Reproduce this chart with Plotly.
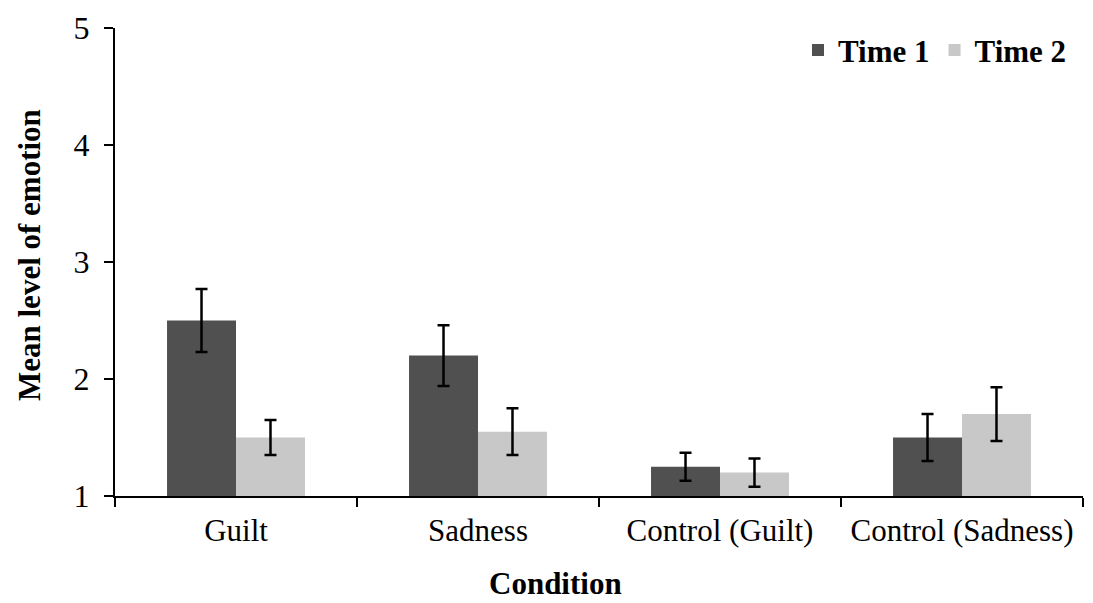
import plotly.graph_objects as go

categories = ["Guilt", "Sadness", "Control (Guilt)", "Control (Sadness)"]
time1 = [2.5, 2.2, 1.25, 1.5]
time1_err = [0.27, 0.26, 0.12, 0.2]
time2 = [1.5, 1.55, 1.2, 1.7]
time2_err = [0.15, 0.2, 0.12, 0.23]
y_ticks = [1, 2, 3, 4, 5]

FONT = "Liberation Serif"

fig = go.Figure()
fig.add_trace(go.Bar(
    name="Time 1", x=categories, y=[v - 1 for v in time1], base=1,
    marker=dict(color="#505050", line=dict(width=0)),
    error_y=dict(type="data", array=time1_err, color="black", thickness=2.5, width=6),
))
fig.add_trace(go.Bar(
    name="Time 2", x=categories, y=[v - 1 for v in time2], base=1,
    marker=dict(color="#c8c8c8", line=dict(width=0)),
    error_y=dict(type="data", array=time2_err, color="black", thickness=2.5, width=6),
))

pw = 1093 - 115 - 10
ph = 603 - 28 - 107

fig.update_layout(
    width=1093, height=603,
    margin=dict(l=115, r=10, t=28, b=107),
    plot_bgcolor="white", paper_bgcolor="white",
    barmode="group", bargap=0.43, bargroupgap=0,
    font=dict(family=FONT, size=31, color="black"),
    showlegend=True,
    legend=dict(orientation="h", x=(1072 - 115) / pw, xanchor="right",
                y=(496 - 28) / ph + 0.01, yanchor="top",
                font=dict(family=FONT, size=31, color="black", weight="bold"),
                itemwidth=30, bgcolor="rgba(0,0,0,0)"),
    xaxis=dict(type="category", showline=True, linecolor="black", linewidth=2,
               ticks="outside", tickson="boundaries", ticklen=9, tickwidth=2,
               tickcolor="black", showgrid=False, ticklabelstandoff=6,
               tickfont=dict(family=FONT, size=31, color="black")),
    yaxis=dict(range=[1, 5], tickvals=y_ticks, showline=True, linecolor="black",
               linewidth=2, ticks="outside", ticklen=9, tickwidth=2, tickcolor="black",
               showgrid=False, zeroline=False, ticklabelstandoff=8,
               tickfont=dict(family=FONT, size=32, color="black")),
    annotations=[
        dict(text="<b>Condition</b>", xref="paper", yref="paper",
             x=(555 - 115) / pw, y=(496 - 603) / ph, yanchor="bottom", xanchor="center",
             showarrow=False, font=dict(family=FONT, size=31)),
        dict(text="<b>Mean level of emotion</b>", xref="paper", yref="paper",
             x=(29 - 115) / pw, y=(496 - 255) / ph, xanchor="center", yanchor="middle",
             textangle=-90, showarrow=False, font=dict(family=FONT, size=31)),
    ],
)

fig.write_html("out.html")
